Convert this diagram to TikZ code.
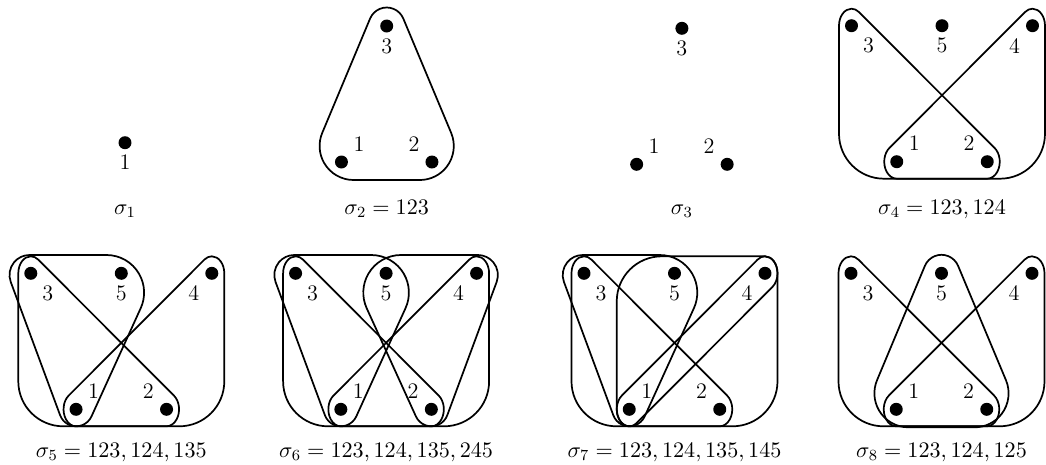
\RequirePackage{fix-cm}
\documentclass[tikz,border=0pt]{standalone}
\usetikzlibrary{calc}
\tikzset{
  vdot/.style={circle,fill=black,inner sep=0pt,minimum size=6.8pt},
  lbl/.style={inner sep=0pt,font=\fontsize{11.6}{14}\selectfont},
  captxt/.style={inner sep=0pt,anchor=base,font=\fontsize{11.6}{14}\selectfont},
  hull/.style={draw=black,line width=0.9pt,line join=round},
  e123/.pic={\draw[hull] (-12.5,0) arc[start angle=180,end angle=306.37,x radius=12.5,y radius=17] -- (143.16,122.31) arc[start angle=-53.63,end angle=90,x radius=12.5,y radius=17] -- (32.5,153) arc[start angle=90,end angle=180,radius=45] -- cycle;},
  e124/.pic={\draw[hull] (193.5,0) arc[start angle=0,end angle=-126.37,x radius=12.5,y radius=17] -- (37.84,122.31) arc[start angle=233.63,end angle=90,x radius=12.5,y radius=17] -- (148.5,153) arc[start angle=90,end angle=0,radius=45] -- cycle;},
  e135/.pic={\draw[hull] (-1.3,-18.3) -- (75.7,-18.3) arc[start angle=-90,end angle=24.46,radius=37.6] -- (60.72,143.04) arc[start angle=24.46,end angle=159.67,radius=17] -- (-20.05,8.65) arc[start angle=159.67,end angle=270,radius=20] -- cycle;},
  e245/.pic={\draw[hull] (182.3,-18.3) -- (105.3,-18.3) arc[start angle=270,end angle=155.54,radius=37.6] -- (120.28,143.04) arc[start angle=155.54,end angle=20.33,radius=17] -- (201.05,8.65) arc[start angle=20.33,end angle=-90,radius=20] -- cycle;},
  e145/.pic={\draw[hull] (32.75,28) arc[start angle=180,end angle=270,radius=45] -- (181,-17) arc[start angle=-90,end angle=53.63,x radius=12.5,y radius=17] -- (52.66,149.69) arc[start angle=53.63,end angle=180,x radius=12.5,y radius=17] -- cycle;},
  e125/.pic={\draw[hull] (73.90,-7.47) arc[start angle=202.78,end angle=337.22,radius=18] -- (154.95,106.84) arc[start angle=-22.78,end angle=90,radius=34] -- (57.4,154) arc[start angle=90,end angle=202.78,radius=34] -- cycle;},
  pts5/.pic={
    \node[vdot] (-3) at (0,0) {};
    \node[vdot] (-5) at (90.5,0) {};
    \node[vdot] (-4) at (181,0) {};
    \node[vdot] (-1) at (45.25,136) {};
    \node[vdot] (-2) at (135.75,136) {};
    \node[lbl] (-l3) at (17,20) {3};
    \node[lbl] (-l5) at (90.5,20) {5};
    \node[lbl] (-l4) at (163,20) {4};
    \node[lbl] (-l1) at (62.75,117.5) {1};
    \node[lbl] (-l2) at (117.5,117.5) {2};
  },
  pts3/.pic={
    \node[vdot] (-3) at (90.5,0) {};
    \node[vdot] (-1) at (45.25,136) {};
    \node[vdot] (-2) at (135.75,136) {};
    \node[lbl] (-l3) at (90.5,20.5) {3};
    \node[lbl] (-l1) at (62.75,118) {1};
    \node[lbl] (-l2) at (117.75,118) {2};
  }
}
\begin{document}
\begin{tikzpicture}[x=0.5236pt,y=-0.5236pt]
\useasboundingbox (0,0) rectangle (1046,464);
\fill[white] (0,0) rectangle (1046,464);
\clip (0,0) rectangle (1046,464);
% sigma 1
\node[vdot] (s1-1) at (125,142.7) {};
\node[lbl] (s1-l1) at (125,161.7) {1};
\node[captxt] (c1) at (125,214) {$\sigma_1$};
% sigma 2
\begin{scope}[shift={(296.2,26)}]
  \pic {e125};
  \pic (s2) {pts3};
\end{scope}
\node[captxt] (c2) at (386.7,214) {$\sigma_2 = 123$};
% sigma 3
\begin{scope}[shift={(591.4,28.3)}]
  \pic (s3) {pts3};
\end{scope}
\node[captxt] (c3) at (681.9,214) {$\sigma_3$};
% sigma 4
\begin{scope}[shift={(851.5,25.7)}]
  \pic {e123};
  \pic {e124};
  \pic (s4) {pts5};
\end{scope}
\node[captxt] (c4) at (942,214) {$\sigma_4 = 123, 124$};
% sigma 5
\begin{scope}[shift={(30.8,273.3)}]
  \pic {e123};
  \pic {e124};
  \pic {e135};
  \pic (s5) {pts5};
\end{scope}
\node[captxt] (c5) at (121.3,457.5) {$\sigma_5 = 123, 124, 135$};
% sigma 6
\begin{scope}[shift={(295.6,273.3)}]
  \pic {e123};
  \pic {e124};
  \pic {e135};
  \pic {e245};
  \pic (s6) {pts5};
\end{scope}
\node[captxt] (c6) at (386.1,457.5) {$\sigma_6 = 123, 124, 135, 245$};
% sigma 7
\begin{scope}[shift={(584,273.3)}]
  \pic {e123};
  \pic {e124};
  \pic {e135};
  \pic {e145};
  \pic (s7) {pts5};
\end{scope}
\node[captxt] (c7) at (674.5,457.5) {$\sigma_7 = 123, 124, 135, 145$};
% sigma 8
\begin{scope}[shift={(851,273.3)}]
  \pic {e123};
  \pic {e124};
  \pic {e125};
  \pic (s8) {pts5};
\end{scope}
\node[captxt] (c8) at (941.5,457.5) {$\sigma_8 = 123, 124, 125$};
\end{tikzpicture}
\end{document}
